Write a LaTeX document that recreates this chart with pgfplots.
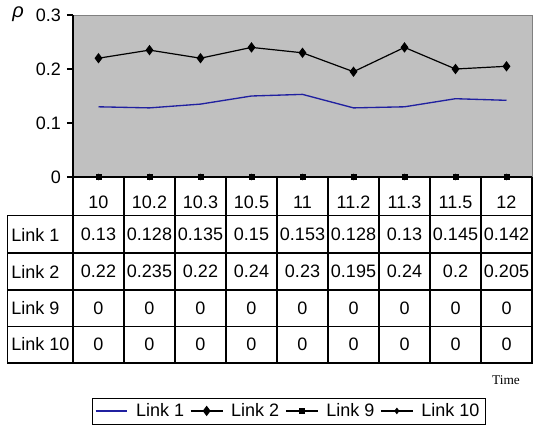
\documentclass[border=0pt]{standalone}
\usepackage{pgfplots}
\pgfplotsset{compat=1.18}
\usepackage{fontspec}
\setmainfont{Liberation Sans}
\newfontfamily\timesfont{Liberation Serif}
\definecolor{plotgray}{RGB}{192,192,192}
\definecolor{linkblue}{RGB}{32,32,160}
\begin{document}
\begin{tikzpicture}[font=\fontsize{13.5}{16}\selectfont]
\begin{axis}[
    at={(0,0)}, anchor=south west,
    scale only axis, width=344.25pt, height=121.5pt,
    xmin=-0.5, xmax=8.5, ymin=0, ymax=0.3,
    clip=false,
    axis background/.style={fill=plotgray},
    axis line style={draw=gray},
    xtick={0,...,8},
    xticklabels={10,10.2,10.3,10.5,11,11.2,11.3,11.5,12},
    xtick style={draw=none},
    xticklabel style={anchor=center, yshift=-14.5pt},
    ytick={0,0.1,0.2,0.3},
    yticklabels={0,0.1,0.2,0.3},
    ytick pos=left,
    tick align=outside,
    ytick style={black, thick},
    major tick length=4.5pt,
    yticklabel style={xshift=-1pt},
    /pgf/number format/assume math mode=true,
    legend columns=-1,
    legend style={at={(0.4695,-1.444)}, anchor=center, draw=black,
        inner xsep=2pt, inner ysep=2pt,
        /tikz/every even column/.append style={column sep=2.5pt},
        /tikz/every odd column/.append style={column sep=4pt}},
    legend image code/.code={\draw[mark repeat=2,mark phase=2] plot coordinates {(0cm,0cm) (0.42cm,0cm) (0.84cm,0cm)};},
]
\addplot[linkblue, line width=1pt, mark=none] coordinates {
(0,0.13) (1,0.128) (2,0.135) (3,0.15) (4,0.153) (5,0.128) (6,0.13) (7,0.145) (8,0.142)};
\addlegendentry{Link 1}
\addplot[black, line width=0.9pt, mark=diamond*, mark size=3.2pt] coordinates {
(0,0.22) (1,0.235) (2,0.22) (3,0.24) (4,0.23) (5,0.195) (6,0.24) (7,0.2) (8,0.205)};
\addlegendentry{Link 2}
\addplot[black, line width=0.9pt, mark=square*, mark size=1.8pt] coordinates {
(0,0) (1,0) (2,0) (3,0) (4,0) (5,0) (6,0) (7,0) (8,0)};
\addlegendentry{Link 9}
\addplot[black, line width=0.9pt, mark=diamond*, mark size=1.8pt] coordinates {
(0,0) (1,0) (2,0) (3,0) (4,0) (5,0) (6,0) (7,0) (8,0)};
\addlegendentry{Link 10}
\end{axis}
\begin{scope}[x=0.75pt, y=0.75pt]
\path (-73,177) rectangle (461,-255);
% axis lines in black
\draw[black, line width=0.9pt] (0,162) -- (0,0) -- (459,0);
% data table grid
\draw[black, line width=0.8pt] (-65.5,-38.5) rectangle (459,-186);
\draw[black, line width=0.8pt] (459,0) -- (459,-38.5);
\foreach \k in {0,...,8} \draw[black, line width=0.8pt] (51*\k,0) -- (51*\k,-186);
\foreach \y in {-76,-113,-149.5} \draw[black, line width=0.8pt] (-65.5,\y) -- (459,\y);
% row labels
\node[anchor=west, inner sep=0pt] at (-62,-57.5) {Link 1};
\node[anchor=west, inner sep=0pt] at (-62,-94.5) {Link 2};
\node[anchor=west, inner sep=0pt] at (-62,-131) {Link 9};
\node[anchor=west, inner sep=0pt] at (-62,-167.5) {Link 10};
\foreach \v [count=\i from 0] in {0.13,0.128,0.135,0.15,0.153,0.128,0.13,0.145,0.142}
  \node[inner sep=0pt] at (25.5+51*\i,-57.5) {\v};
\foreach \v [count=\i from 0] in {0.22,0.235,0.22,0.24,0.23,0.195,0.24,0.2,0.205}
  \node[inner sep=0pt] at (25.5+51*\i,-94.5) {\v};
\foreach \i in {0,...,8} {
  \node[inner sep=0pt] at (25.5+51*\i,-131) {0};
  \node[inner sep=0pt] at (25.5+51*\i,-167.5) {0};
}
\node[inner sep=0pt] at (-55,163) {\fontsize{15}{17}\selectfont\itshape ρ};
\node[inner sep=0pt] at (433,-203) {\timesfont\fontsize{10}{12}\selectfont Time};
\end{scope}
\end{tikzpicture}
\end{document}
